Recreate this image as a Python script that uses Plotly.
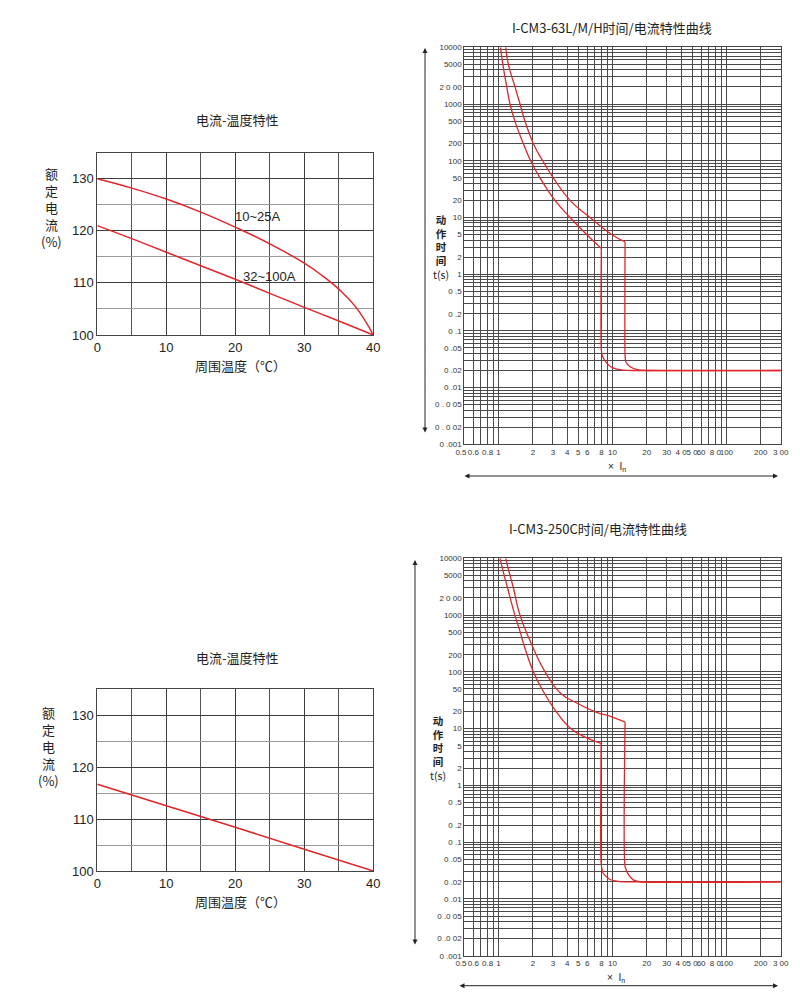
import math
import plotly.graph_objects as go

W, H = 800, 1003

# ---------------- data ----------------
temp_x = [0, 5, 10, 15, 20, 25, 30, 32.5, 35, 37.5, 40]
cur_10_25A = [130, 128.2, 126.1, 123.6, 120.7, 117.5, 113.8, 111.5, 108.8, 105.3, 100]
temp_x2 = [0, 5, 10, 15, 20, 25, 30, 35, 40]
cur_32_100A = [121.0, 118.5, 115.9, 113.3, 110.7, 108.0, 105.3, 102.7, 100]
temp_x3 = [0, 10, 20, 30, 40]
cur_250C = [116.7, 112.6, 108.4, 104.2, 100]

# I-CM3-63L/M/H  (x = multiple of In, t = seconds)
a_lo_x = [1.04, 1.09, 1.18, 1.26, 1.39, 1.65, 1.91, 2.31, 3.13, 4.24, 5.93, 7.98]
a_lo_t = [10000, 5000, 2000, 1000, 500, 200, 100, 50, 20, 10, 5, 2.85]
a_lo_kx = [7.98, 7.98, 8.2, 8.9, 10.2, 12.4, 15.2, 300]
a_lo_kt = [2.85, 0.046, 0.035, 0.027, 0.022, 0.0203, 0.02, 0.02]
a_hi_x = [1.154, 1.218, 1.393, 1.542, 1.705, 2.02, 2.44, 3.02, 4.24, 6.35, 9.84, 12.9]
a_hi_t = [10000, 5000, 2000, 1000, 500, 200, 100, 50, 20, 10, 5, 3.7]
a_hi_kx = [12.9, 12.9, 13.1, 14.3, 16.9, 20, 300]
a_hi_kt = [3.7, 0.037, 0.0285, 0.0233, 0.0205, 0.02, 0.02]

# I-CM3-250C
b_lo_x = [1.03, 1.12, 1.20, 1.39, 1.55, 1.65, 2.02, 2.40, 3.2, 4.3, 5.8, 7.95]
b_lo_t = [10000, 5000, 3000, 1000, 500, 320, 100, 50, 20, 10, 7, 5.5]
b_lo_kx = [7.95, 7.95, 8.3, 9.5, 11.6, 14.3, 300]
b_lo_kt = [5.5, 0.043, 0.028, 0.022, 0.0202, 0.02, 0.02]
b_hi_x = [1.154, 1.26, 1.35, 1.54, 1.93, 2.56, 3.5, 4.9, 7.26, 10.0, 12.9]
b_hi_t = [10000, 5000, 3000, 1000, 320, 100, 42, 28, 19.4, 16, 13.0]
b_hi_kx = [12.9, 12.9, 13.8, 15.2, 17.5, 300]
b_hi_kt = [13.0, 0.037, 0.027, 0.0217, 0.02, 0.02]

# log grid / tick labels
t_grid = [m * 10.0 ** k for k in range(-3, 4) for m in range(1, 10)] + [10000]
t_labels_top = {10000: "10000", 5000: "5000", 2000: "2 0 00", 1000: "1000", 500: "500",
                200: "200", 100: "100", 50: "50", 20: "20", 10: "10", 5: "5", 2: "2", 1: "1",
                0.5: "0 .5", 0.2: "0 .2", 0.1: "0 .1", 0.05: "0 .05", 0.02: "0 .02",
                0.01: "0 .01", 0.005: "0 . 0 05", 0.002: "0 . 0 02", 0.001: "0 .001"}
t_labels_bot = dict(t_labels_top)
t_labels_bot.update({0.005: "0 .0 05", 0.002: "0 .0 02"})
i_grid = [0.5, 0.6, 0.7, 0.8, 0.9] + [m * 10.0 ** k for k in range(0, 2) for m in range(1, 10)] + [100, 200, 300]
i_labels_top = {0.5: "0.5&#160;&#160;&#160;", 0.6: "0.6", 0.8: "0.8", 1: "1", 2: "2", 3: "3", 4: "4", 5: "5",
                6: "6", 8: "8", 10: "10", 20: "20", 30: "30", 40: "4 0", 50: "5 0", 60: "60",
                80: "8 0", 100: "100", 200: "200", 300: "3 00"}
i_labels_bot = dict(i_labels_top)


def lab(vals, d):
    out = []
    for v in vals:
        key = None
        for k in d:
            if abs(k - v) / k < 1e-6:
                key = k
        out.append(d[key] if key is not None else "")
    return out


RED = "#e0262a"
fig = go.Figure()

# left charts
fig.add_trace(go.Scatter(x=temp_x, y=cur_10_25A, mode="lines", line=dict(color=RED, width=1.5, shape="spline", smoothing=1.3), xaxis="x", yaxis="y"))
fig.add_trace(go.Scatter(x=temp_x2, y=cur_32_100A, mode="lines", line=dict(color=RED, width=1.5, shape="spline", smoothing=1.3), xaxis="x", yaxis="y"))
fig.add_trace(go.Scatter(x=temp_x3, y=cur_250C, mode="lines", line=dict(color=RED, width=1.5), xaxis="x3", yaxis="y3"))

# right charts
for xs, ts, ax, ay in [(a_lo_x, a_lo_t, "x2", "y2"), (a_hi_x, a_hi_t, "x2", "y2"),
                       (b_lo_x, b_lo_t, "x4", "y4"), (b_hi_x, b_hi_t, "x4", "y4")]:
    fig.add_trace(go.Scatter(x=xs, y=ts, mode="lines", line=dict(color=RED, width=1.3, shape="spline", smoothing=1.3), xaxis=ax, yaxis=ay))
for xs, ts, ax, ay in [(a_lo_kx, a_lo_kt, "x2", "y2"), (a_hi_kx, a_hi_kt, "x2", "y2"),
                       (b_lo_kx, b_lo_kt, "x4", "y4"), (b_hi_kx, b_hi_kt, "x4", "y4")]:
    fig.add_trace(go.Scatter(x=xs, y=ts, mode="lines", line=dict(color=RED, width=1.3, shape="spline", smoothing=0.5), xaxis=ax, yaxis=ay))


def px2fx(px):
    return px / W


def py2fy(py):
    return 1 - py / H


tick_font_l = dict(family="Liberation Sans, Arial", size=13, color="#222")
tick_font_r = dict(family="Liberation Sans, Arial", size=8, color="#333")

left_x = dict(range=[0, 40], tickvals=[0, 10, 20, 30, 40], showgrid=True, gridcolor="#3c3c3c", gridwidth=1,
              minor=dict(dtick=5, tick0=0, showgrid=True, gridcolor="#555", gridwidth=1),
              showline=True, mirror=True, linecolor="#444", linewidth=1, zeroline=False, ticks="",
              tickfont=tick_font_l, fixedrange=True, automargin=False)
left_y = dict(range=[100, 135], tickvals=[100, 110, 120, 130], showgrid=True, gridcolor="#3c3c3c", gridwidth=1,
              minor=dict(dtick=5, tick0=100, showgrid=True, gridcolor="#9a9a9a", gridwidth=1),
              showline=True, mirror=True, linecolor="#444", linewidth=1, zeroline=False, ticks="",
              tickfont=tick_font_l, fixedrange=True, automargin=False)


def right_x(labels):
    return dict(type="log", range=[math.log10(0.5), math.log10(300)], tickvals=i_grid, ticktext=lab(i_grid, labels),
                showgrid=True, gridcolor="#4a4a4a", gridwidth=1, showline=True, mirror=True,
                linecolor="#444", linewidth=1, zeroline=False, ticks="", tickfont=tick_font_r,
                tickangle=0, fixedrange=True, automargin=False)


def right_y(labels):
    return dict(type="log", range=[-3, 4], tickvals=t_grid, ticktext=lab(t_grid, labels),
                showgrid=True, gridcolor="#4a4a4a", gridwidth=1, showline=True, mirror=True,
                linecolor="#444", linewidth=1, zeroline=False, ticks="", tickfont=tick_font_r,
                fixedrange=True, automargin=False)


fig.update_layout(
    width=W, height=H, margin=dict(l=0, r=0, t=0, b=0, pad=0), showlegend=False, autosize=False,
    paper_bgcolor="white", plot_bgcolor="white",
    xaxis=dict(left_x, domain=[px2fx(97.3), px2fx(373.3)], anchor="y"),
    yaxis=dict(left_y, domain=[py2fy(335), py2fy(152.7)], anchor="x"),
    xaxis3=dict(left_x, domain=[px2fx(97.3), px2fx(373.3)], anchor="y3"),
    yaxis3=dict(left_y, domain=[py2fy(871), py2fy(689)], anchor="x3"),
    xaxis2=dict(right_x(i_labels_top), domain=[px2fx(464.3), px2fx(780.7)], anchor="y2"),
    yaxis2=dict(right_y(t_labels_top), domain=[py2fy(444.3), py2fy(47.3)], anchor="x2"),
    xaxis4=dict(right_x(i_labels_bot), domain=[px2fx(464.3), px2fx(780.7)], anchor="y4"),
    yaxis4=dict(right_y(t_labels_bot), domain=[py2fy(955.7), py2fy(558.3)], anchor="x4"),
)

CJK = "Noto Sans CJK SC"
anns = []


def txt(px, py, s, size=13, color="#222", family=CJK, **kw):
    anns.append(dict(x=px2fx(px), y=py2fy(py), xref="paper", yref="paper", text=s, showarrow=False,
                     font=dict(family=family, size=size, color=color), xanchor="center", yanchor="middle", **kw))


# titles
txt(237, 119, "电流-温度特性", 13)
txt(237, 657, "电流-温度特性", 13)
txt(612, 28, "I-CM3-63L/M/H时间/电流特性曲线", 13)
txt(598, 528, "I-CM3-250C时间/电流特性曲线", 13)
# left axis titles
txt(51, 208, "额<br>定<br>电<br>流<br>(%)", 13, align="center")
txt(48, 746, "额<br>定<br>电<br>流<br>(%)", 13, align="center")
txt(240, 365, "周围温度（℃）", 13)
txt(240, 901, "周围温度（℃）", 13)
# curve labels
anns.append(dict(x=23.3, y=122.8, xref="x", yref="y", text="10~25A", showarrow=False,
                 font=dict(family="Liberation Sans, Arial", size=13, color="#222")))
anns.append(dict(x=25.0, y=111.3, xref="x", yref="y", text="32~100A", showarrow=False,
                 font=dict(family="Liberation Sans, Arial", size=13, color="#222")))
# right axis titles
txt(441, 247, "<b>动</b><br><b>作</b><br><b>时</b><br><b>间</b><br>t(s)", 10.5, align="center")
txt(438, 748, "<b>动</b><br><b>作</b><br><b>时</b><br><b>间</b><br>t(s)", 10.5, align="center")
txt(617, 467, "×  I<sub>n</sub>", 10, family="Liberation Sans, Arial")
txt(616, 978, "×  I<sub>n</sub>", 10, family="Liberation Sans, Arial")


def arrow(px1, py1, px2, py2):
    anns.append(dict(x=px2fx(px1), y=py2fy(py1), xref="paper", yref="paper", ax=px2 - px1, ay=py2 - py1,
                     axref="pixel", ayref="pixel", text="", showarrow=True, arrowhead=2, arrowside="end+start",
                     arrowsize=1, arrowwidth=1, arrowcolor="#222"))


arrow(425, 48, 425, 434)
arrow(778, 476, 463, 476)
arrow(415, 560, 415, 946)
arrow(778, 985.7, 458, 985.7)

fig.update_layout(annotations=anns)
fig.write_html("out.html", config={"displayModeBar": False},
               post_script="document.body.style.margin='0';document.body.style.padding='0';"
                           "document.documentElement.style.overflow='hidden';")
